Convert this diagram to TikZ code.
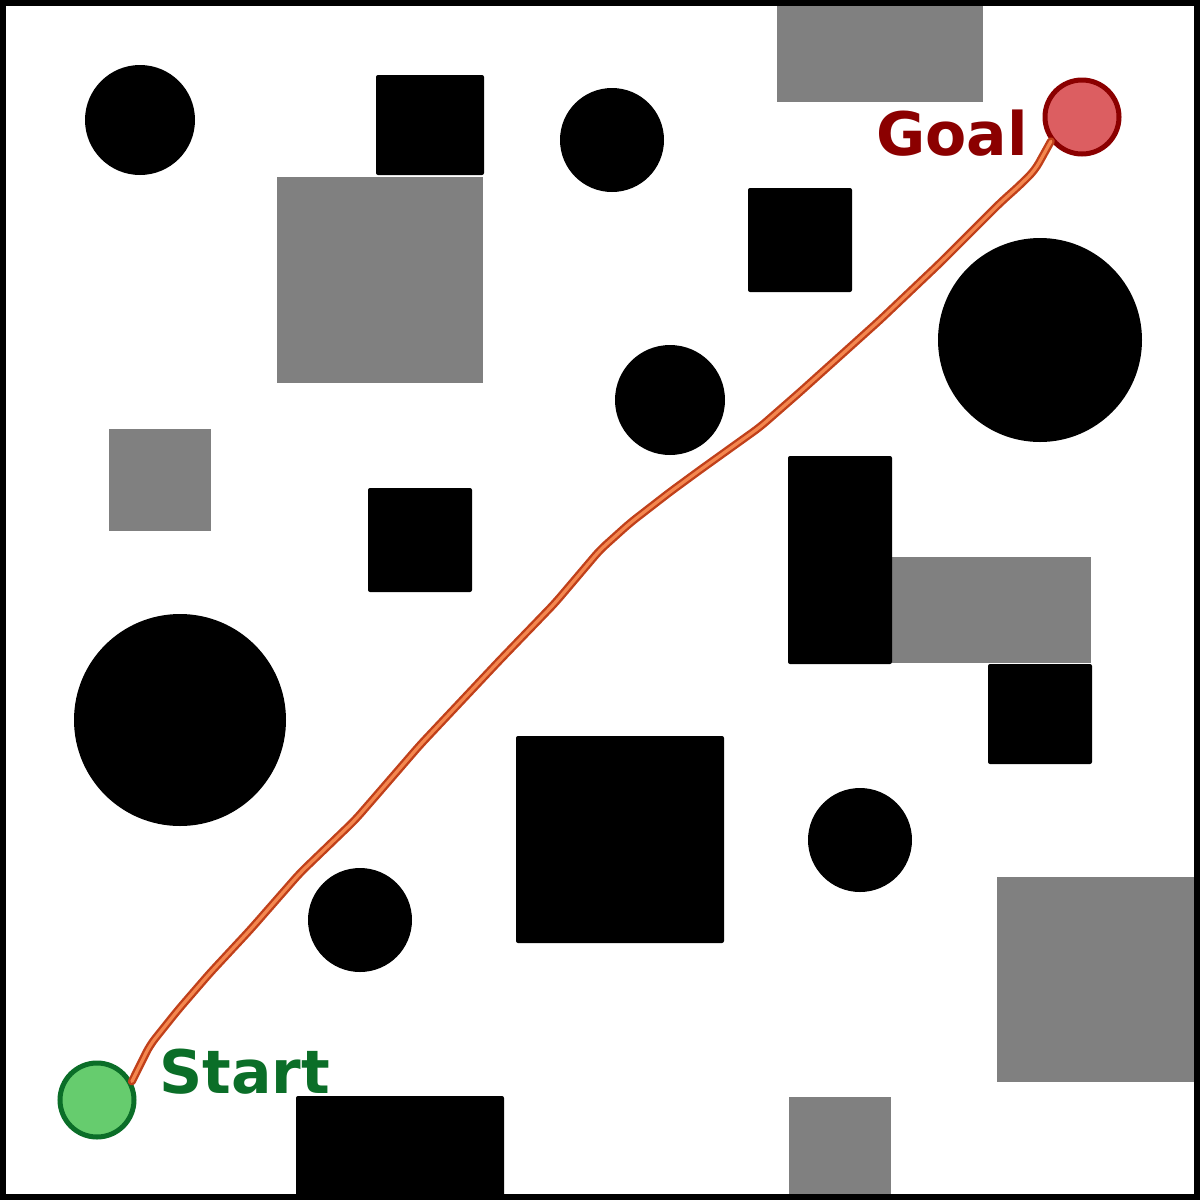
\documentclass[tikz,border=0pt]{standalone}
\usepackage{fontspec}
\setmainfont{DejaVu Sans}
\definecolor{obsgray}{HTML}{808080}
\definecolor{startfill}{HTML}{66CC6E}
\definecolor{startline}{HTML}{0B6E28}
\definecolor{goalfill}{HTML}{DC5E61}
\definecolor{goalline}{HTML}{8B0000}
\definecolor{routeout}{HTML}{C0401A}
\definecolor{routein}{HTML}{F4874F}
\tikzset{
  hard/.style={fill=black, rounded corners=1pt},
  soft/.style={fill=obsgray},
  blob/.style={fill=black},
  endpt/.style={circle, inner sep=0pt, minimum size=37pt, line width=2.5pt},
  lbl/.style={font=\bfseries\fontsize{30pt}{30pt}\selectfont, inner sep=0pt, anchor=base west},
  routeA/.style={draw=routeout, line width=4pt, line join=round, line cap=round, rounded corners=4pt},
  routeB/.style={draw=routein, line width=1.6pt, line join=round, line cap=round, rounded corners=4pt}
}
\begin{document}
\begin{tikzpicture}[x=0.5pt, y=-0.5pt]
\useasboundingbox (0,0) rectangle (1200,1200);
\fill[white] (0,0) rectangle (1200,1200);
% gray obstacles
\fill[soft] (777,0) rectangle (983,102);
\fill[soft] (277,177) rectangle (483,383);
\fill[soft] (109,429) rectangle (211,531);
\fill[soft] (892,557) rectangle (1091,663);
\fill[soft] (997,877) rectangle (1200,1082);
\fill[soft] (789,1097) rectangle (891,1200);
% black squares
\fill[hard] (376,75) rectangle (484,175);
\fill[hard] (748,188) rectangle (852,292);
\fill[hard] (368,488) rectangle (472,592);
\fill[hard] (788,456) rectangle (892,664);
\fill[hard] (988,664) rectangle (1092,764);
\fill[hard] (516,736) rectangle (724,943);
\fill[hard] (296,1096) rectangle (504,1200);
% black circles
\fill[blob] (140,120) circle[radius=27.5pt];
\fill[blob] (612,140) circle[radius=26pt];
\fill[blob] (670,400) circle[radius=27.5pt];
\fill[blob] (1040,340) circle[radius=51pt];
\fill[blob] (180,720) circle[radius=53pt];
\fill[blob] (860,840) circle[radius=26pt];
\fill[blob] (360,920) circle[radius=26pt];
% start / goal
\node[endpt, draw=startline, fill=startfill] (start) at (97,1100) {};
\node[endpt, draw=goalline, fill=goalfill] (goal) at (1082,117) {};
\node[lbl, text=startline] (startlbl) at (159,1093) {Start};
\node[lbl, text=goalline] (goallbl) at (876,155) {Goal};
% route
\foreach \s in {routeA,routeB}{
\draw[\s] (start.28) -- (150,1045) -- (178,1010) -- (210,973) -- (250,930) -- (300,873) -- (355,820) -- (375,797) -- (420,745) -- (500,660) -- (555,603) -- (600,550) -- (630,523) -- (670,492) -- (700,470) -- (760,427) -- (800,392) -- (830,365) -- (880,320) -- (940,263) -- (1000,203) -- (1020,185) -- (1035,170) -- (goal.218);
}
% frame
\draw[line width=3pt] (3,3) rectangle (1197,1197);
\end{tikzpicture}
\end{document}
